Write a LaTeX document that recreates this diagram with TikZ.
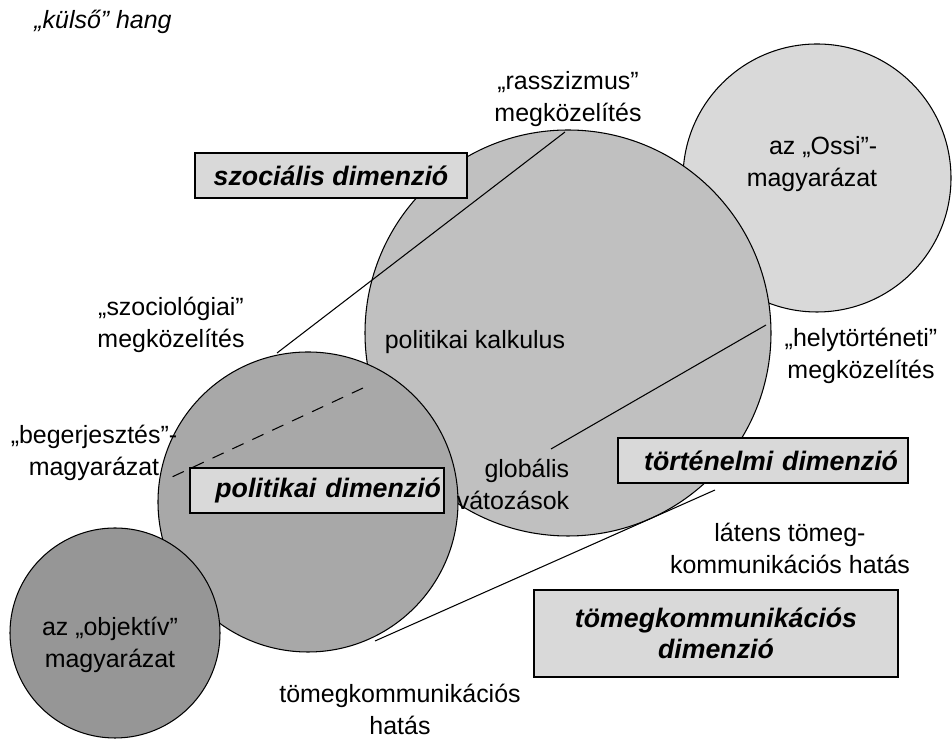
\documentclass[tikz,border=0pt]{standalone}
\usepackage{fontspec}
\setmainfont{Liberation Sans}

\definecolor{ossiGray}{RGB}{217,217,217}
\definecolor{kalkGray}{RGB}{192,192,192}
\definecolor{poliGray}{RGB}{168,168,168}
\definecolor{objGray}{RGB}{150,150,150}
\definecolor{boxGray}{RGB}{217,217,217}

\newcommand{\drawCircle}[3]{\filldraw[fill=#3, draw=black, line width=0.6pt] #1 circle (#2);}

\tikzset{
    txt/.style={font=\fontsize{14.2}{18.2}\selectfont, align=center, inner sep=0pt},
    dimbox/.style={draw=black, fill=boxGray, line width=0.6pt, inner ysep=0pt,
        font=\fontsize{15.2}{17.6}\selectfont\bfseries\itshape, minimum height=0.9cm},
    thinline/.style={line width=0.6pt}
}

\begin{document}
\begin{tikzpicture}
        \useasboundingbox (0,0) rectangle (19.04,14.78);

        % Draw circles (back to front)
        \drawCircle{(16.34,11.22)}{2.68}{ossiGray}
        \drawCircle{(11.36,8.12)}{4.06}{kalkGray}
        \drawCircle{(6.16,4.74)}{3.0}{poliGray}
        \drawCircle{(2.30,2.12)}{2.10}{objGray}

        % End points of the lines
        \coordinate (raszA) at (11.30,12.14);
        \coordinate (raszB) at (5.54,7.72);
        \coordinate (begA) at (7.26,7.02);
        \coordinate (begB) at (3.44,5.24);
        \coordinate (helyA) at (15.32,8.28);
        \coordinate (helyB) at (11.02,5.80);
        \coordinate (tomA) at (14.30,4.98);
        \coordinate (tomB) at (7.50,1.96);

        \draw[thinline] (raszA) -- (raszB);
        \draw[thinline, dash pattern=on 7pt off 5.5pt] (begA) -- (begB);
        \draw[thinline] (helyA) -- (helyB);
        \draw[thinline] (tomA) -- (tomB);

        % Dimension boxes
        \node[dimbox, minimum width=5.44cm] (szocDim) at (6.62,11.27) {szociális dimenzió};
        \node[dimbox, inner xsep=0.06cm, text width=4.96cm, align=right] (poliDim) at (6.34,4.97) {politikai dimenzió};
        \node[dimbox, inner xsep=0.2cm, text width=5.4cm, align=right] (tortDim) at (15.26,5.57) {történelmi dimenzió};
        \node[dimbox, minimum width=7.28cm, minimum height=1.74cm, align=center] (tomDim) at (14.32,2.11) {tömegkommunikációs\\dimenzió};

        % Labels
        \node[txt, font=\fontsize{14.2}{18.2}\selectfont\itshape] (kulso) at (2.06,14.34) {„külső” hang};
        \node[txt] (rasszizmus) at (11.36,12.80) {„rasszizmus”\\megközelítés};
        \node[txt, align=right] (ossi) at (16.24,11.50) {az „Ossi”-\\magyarázat};
        \node[txt] (szociologiai) at (3.42,8.28) {„szociológiai”\\megközelítés};
        \node[txt] (kalkulus) at (9.50,7.94) {politikai kalkulus};
        \node[txt] (helytort) at (17.22,7.66) {„helytörténeti”\\megközelítés};
        \node[txt] (begerj) at (1.88,5.72) {„begerjesztés”-\\magyarázat};
        \node[txt, align=right] (globalis) at (10.26,5.10) {globális\\vátozások};
        \node[txt] (latens) at (15.80,3.82) {látens tömeg-\\kommunikációs hatás};
        \node[txt] (tomHatas) at (8.00,0.60) {tömegkommunikációs\\hatás};
        \node[txt] (objektiv) at (2.20,1.88) {az „objektív”\\magyarázat};

\end{tikzpicture}
\end{document}
